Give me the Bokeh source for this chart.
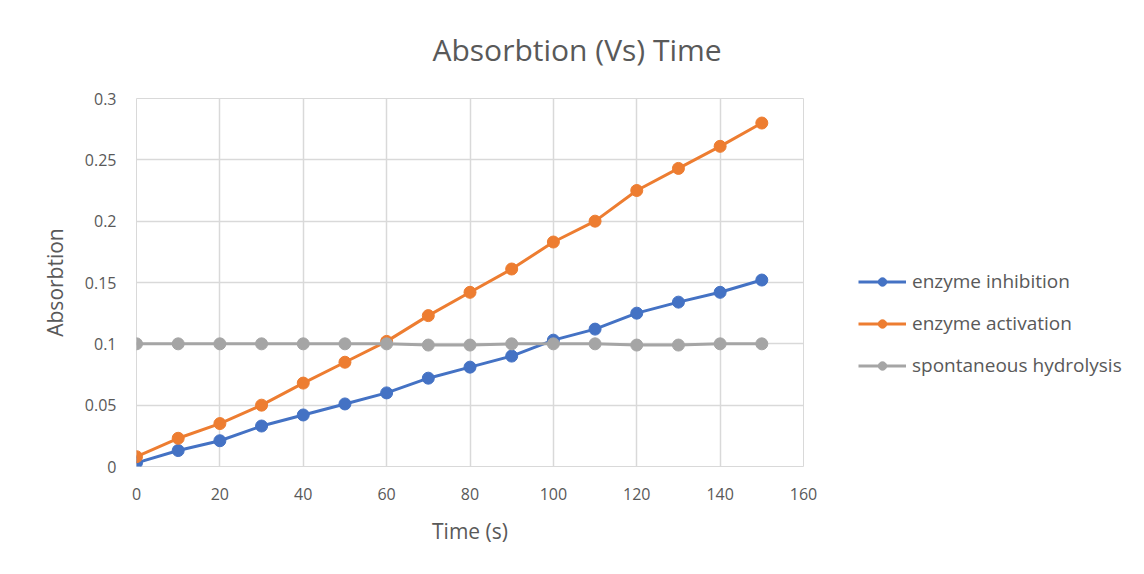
from bokeh.plotting import figure
from bokeh.models import Range1d, Legend, LegendItem, FixedTicker, Title
from bokeh.layouts import row
from bokeh.embed import file_html
from bokeh.resources import INLINE

time_s = [0, 10, 20, 30, 40, 50, 60, 70, 80, 90, 100, 110, 120, 130, 140, 150]
enzyme_inhibition = [0.003, 0.013, 0.021, 0.033, 0.042, 0.051, 0.060, 0.072, 0.081, 0.090,
                     0.103, 0.112, 0.125, 0.134, 0.142, 0.152]
enzyme_activation = [0.008, 0.023, 0.035, 0.050, 0.068, 0.085, 0.102, 0.123, 0.142, 0.161,
                     0.183, 0.200, 0.225, 0.243, 0.261, 0.280]
spontaneous_hydrolysis = [0.100, 0.100, 0.100, 0.100, 0.100, 0.100, 0.100, 0.099, 0.099, 0.100,
                          0.100, 0.100, 0.099, 0.099, 0.100, 0.100]
x_ticks = [0, 20, 40, 60, 80, 100, 120, 140, 160]
y_ticks = [0, 0.05, 0.1, 0.15, 0.2, 0.25, 0.3]
y_tick_labels = ["0", "0.05", "0.1", "0.15", "0.2", "0.25", "0.3"]

FONT = "Open Sans"
TXT = "#595959"

MAIN_W = 823
p = figure(width=MAIN_W, height=574, output_backend="svg", toolbar_location=None,
           x_range=Range1d(0, 160), y_range=Range1d(0, 0.3),
           min_border_left=136, min_border_right=MAIN_W - 803, min_border_top=98,
           min_border_bottom=108)
p.title = None
p.add_layout(Title(text="Absorbtion (Vs) Time", text_font=FONT, text_font_size="30px",
                   text_color=TXT, text_font_style="normal", align="left", offset=296,
                   standoff=55, vertical_align="middle"), "above")

p.outline_line_color = "#d9d9d9"
p.background_fill_color = "white"
p.border_fill_color = "white"

for ax in (p.xaxis, p.yaxis):
    ax.axis_line_color = None
    ax.major_tick_line_color = None
    ax.minor_tick_line_color = None
    ax.major_label_text_font = FONT
    ax.major_label_text_font_size = "16px"
    ax.major_label_text_color = TXT
    ax.axis_label_text_font = FONT
    ax.axis_label_text_font_size = "21px"
    ax.axis_label_text_color = TXT
    ax.axis_label_text_font_style = "normal"

p.xaxis.ticker = FixedTicker(ticks=x_ticks)
p.yaxis.ticker = FixedTicker(ticks=y_ticks)
p.yaxis.major_label_overrides = {t: l for t, l in zip(y_ticks, y_tick_labels)}
p.xaxis.major_label_standoff = 15
p.yaxis.major_label_standoff = 14
p.xaxis.axis_label = "Time (s)"
p.yaxis.axis_label = "Absorbtion"
p.xaxis.axis_label_standoff = 14
p.yaxis.axis_label_standoff = 13

p.xgrid.grid_line_color = "#d9d9d9"
p.ygrid.grid_line_color = "#d9d9d9"
p.xgrid.grid_line_width = 1.5
p.ygrid.grid_line_width = 1.5

# separate panel that only carries the legend (its data lie outside its view)
q = figure(width=1144 - MAIN_W, height=574, output_backend="svg", toolbar_location=None,
           x_range=Range1d(1000, 1001), y_range=Range1d(1000, 1001),
           x_axis_type=None, y_axis_type=None,
           min_border_left=0, min_border_right=0, min_border_top=0, min_border_bottom=0)
q.outline_line_color = None
q.xgrid.visible = False
q.ygrid.visible = False
q.title = None

series = [
    ("enzyme inhibition", enzyme_inhibition, "#4472C4"),
    ("enzyme activation", enzyme_activation, "#ED7D31"),
    ("spontaneous hydrolysis", spontaneous_hydrolysis, "#A5A5A5"),
]
items = []
for name, ys, col in series:
    p.line(time_s, ys, line_color=col, line_width=3)
    p.scatter(time_s, ys, size=12, fill_color=col, line_color=col)
    l = q.line(time_s, ys, line_color=col, line_width=3)
    c = q.scatter(time_s, ys, size=11, fill_color=col, line_color=col)
    items.append(LegendItem(label=name, renderers=[l, c]))

legend = Legend(items=items, location=(858 - MAIN_W, 88), border_line_color=None,
                background_fill_alpha=0, padding=0, margin=0, spacing=16,
                glyph_width=48, glyph_height=21, label_height=21, label_standoff=6,
                label_text_font=FONT, label_text_font_size="19px", label_text_color=TXT)
q.add_layout(legend, "center")

layout = row(p, q)
open("out.html", "w").write(file_html(layout, INLINE))
